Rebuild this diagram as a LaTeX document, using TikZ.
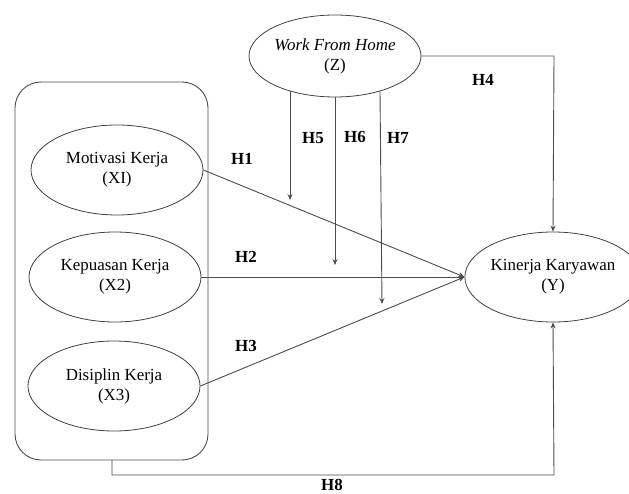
\documentclass[tikz,border=0pt]{standalone}
\usepackage{fontspec}
\setmainfont{Liberation Serif}
\usetikzlibrary{arrows.meta,shapes.geometric}
\begin{document}
\begin{tikzpicture}[x=1bp,y=-1bp,
  var/.style={draw=black!75,line width=0.8bp,ellipse,inner sep=0pt,minimum width=172bp,minimum height=90bp,align=center,font=\fontsize{17}{20}\selectfont},
  conn/.style={draw=black!70,line width=0.9bp},
  arr/.style={conn,-{Stealth[length=6bp,width=5bp]}},
  hlab/.style={inner sep=0pt,font=\fontsize{17}{20}\selectfont\bfseries}]
\useasboundingbox (0,0) rectangle (629,494);
\node[var,minimum width=172bp,minimum height=82bp] (z) at (335,56) {\textit{Work From Home}\\(Z)};
\node[var] (x1) at (117,170) {Motivasi Kerja\\(XI)};
\node[var] (x2) at (115,277) {Kepuasan Kerja\\(X2)};
\node[var] (x3) at (114,386) {Disiplin Kerja\\(X3)};
\node[var,minimum width=166bp] (y) at (553,277) {Kinerja Karyawan\\(Y)};
\draw[conn,rounded corners=26bp] (15,82) rectangle (208,460);
\coordinate (boxb) at (112,460);
% H1-H3
\draw[arr] (x1.east) -- (y.west);
\draw[arr] (x2.east) -- (y.west);
\draw[arr] (x3.east) -- (y.west);
% H4
\coordinate (c4) at (554,56);
\draw[arr] (z.east) -- (c4) -- (y.north);
% H5-H7
\coordinate (e5) at (290,200);
\coordinate (e6) at (335,265);
\coordinate (e7) at (382,304);
\draw[arr] (z.south -| e5) ++(0,-6) -- (e5);
\draw[arr] (z.south) -- (e6);
\draw[arr] (z.south -| e7) ++(-2,-6) -- (e7);
% H8
\coordinate (c8a) at (112,475);
\coordinate (c8b) at (554,475);
\draw[arr] (boxb) -- (c8a) -- (c8b) -- (y.south);
% labels
\node[hlab] (h1) at (242,159) {H1};
\node[hlab] (h2) at (246,257) {H2};
\node[hlab] (h3) at (246,346) {H3};
\node[hlab] (h4) at (483,80) {H4};
\node[hlab] (h5) at (313,138) {H5};
\node[hlab] (h6) at (355,137) {H6};
\node[hlab] (h7) at (398,138) {H7};
\node[hlab] (h8) at (332,485) {H8};
\end{tikzpicture}
\end{document}
